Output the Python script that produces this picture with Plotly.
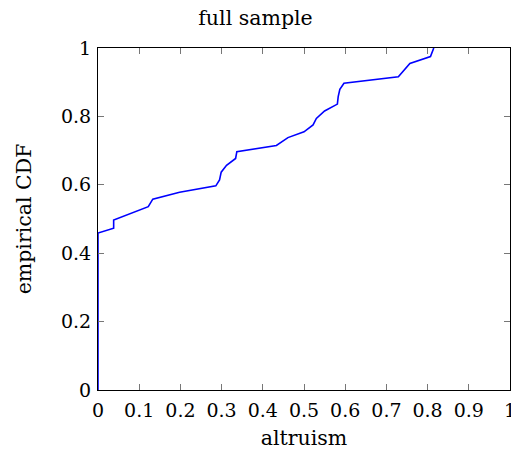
import plotly.graph_objects as go

# empirical CDF points
altruism = [0, 0, 0.038, 0.038, 0.122, 0.133, 0.198, 0.286, 0.295, 0.299, 0.312,
            0.334, 0.337, 0.433, 0.461, 0.500, 0.522, 0.530, 0.550, 0.581, 0.583,
            0.587, 0.597, 0.729, 0.757, 0.807, 0.815]
ecdf = [0, 0.459, 0.473, 0.497, 0.536, 0.558, 0.578, 0.597, 0.614, 0.637, 0.657,
        0.677, 0.697, 0.715, 0.738, 0.755, 0.775, 0.794, 0.816, 0.836, 0.858,
        0.879, 0.897, 0.916, 0.955, 0.975, 1.0]

x_ticks = [0, 0.1, 0.2, 0.3, 0.4, 0.5, 0.6, 0.7, 0.8, 0.9, 1]
y_ticks = [0, 0.2, 0.4, 0.6, 0.8, 1]

serif = "DejaVu Serif"

fig = go.Figure(go.Scatter(
    x=altruism, y=ecdf, mode="lines",
    line=dict(color="#0000ff", width=1.6),
    showlegend=False,
))

axis_style = dict(
    showgrid=False, zeroline=False, automargin=False,
    showline=True, linecolor="black", linewidth=1, mirror="ticks",
    ticks="inside", ticklen=6, tickcolor="#777777", tickwidth=1,
    tickfont=dict(family=serif, size=19, color="black"),
    ticklabeloverflow="allow",
)

fig.update_layout(
    width=511, height=454,
    margin=dict(l=98, r=1, t=48, b=64),
    paper_bgcolor="white", plot_bgcolor="white",
    title=dict(text="full sample", x=0.5, xanchor="center", y=0.961, yanchor="middle",
               font=dict(family=serif, size=20.5, color="black")),
    xaxis=dict(range=[0, 1], tickvals=x_ticks,
               ticktext=[f"{v:g}" for v in x_ticks],
               ticklabelstandoff=3,
               title=dict(text="altruism", font=dict(family=serif, size=20.5, color="black"),
                          standoff=10),
               **axis_style),
    yaxis=dict(range=[0, 1], tickvals=y_ticks,
               ticktext=[f"{v:g}" for v in y_ticks],
               ticklabelstandoff=2,
               title=dict(text="empirical CDF", font=dict(family=serif, size=20.5, color="black"),
                          standoff=23),
               **axis_style),
)

# drop the page's default body margin and scrollbars so the figure sits at 0,0
fix_page = (
    "document.body.style.margin='0';"
    "document.documentElement.style.overflow='hidden';"
    "Plotly.Plots.resize(document.getElementById('{plot_id}'));"
)

fig.write_html("out.html", post_script=fix_page, config={"displayModeBar": False})
